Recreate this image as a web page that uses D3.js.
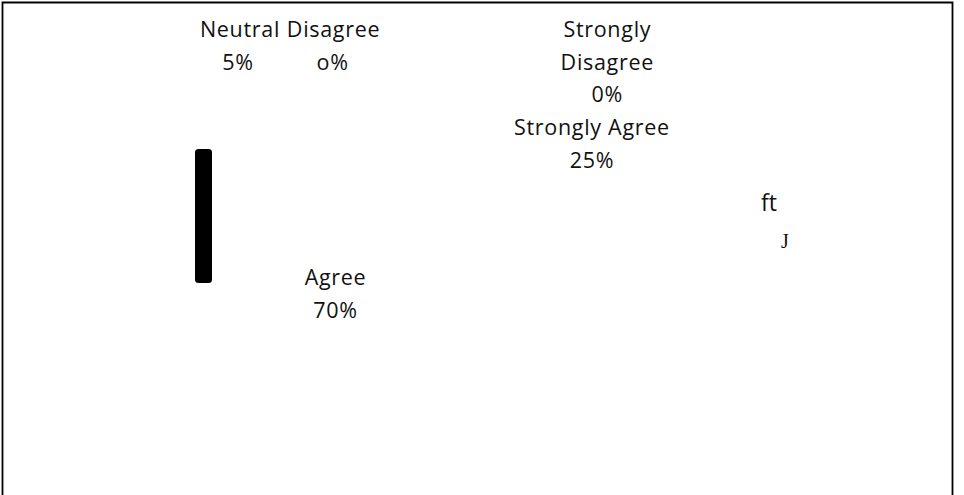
<!DOCTYPE html>
<html>
<head>
<meta charset="utf-8">
<script src="https://cdn.jsdelivr.net/npm/d3@7"></script>
<style>
  html, body { margin: 0; padding: 0; background: #fff; }
  svg text { font-family: "Open Sans", "Noto Sans", sans-serif; fill: #111; }
</style>
</head>
<body>
<div id="chart"></div>
<script>
// survey answers (pie labels only, slices are not drawn in the source picture)
var categories = ["Strongly Agree", "Agree", "Neutral", "Disagree", "Strongly Disagree"];
var values = [25, 70, 5, 0, 0];
// how the percent is printed in the picture
var pctText = ["25%", "70%", "5%", "o%", "0%"];

// where each label sits, as a fraction of the chart area
var labelPos = {
  "Strongly Agree":    { x: 0.614, y: 0.255, lines: ["Strongly Agree"] },
  "Agree":             { x: 0.348, y: 0.558, lines: ["Agree"] },
  "Neutral":           { x: 0.249, y: 0.058, lines: ["Neutral"], dx: -2 },
  "Disagree":          { x: 0.346, y: 0.058, lines: ["Disagree"], dx: -1 },
  "Strongly Disagree": { x: 0.630, y: 0.058, lines: ["Strongly", "Disagree"] }
};

var width = 964, height = 495;
var lineH = 33;
var fontSize = "21.5px";

var svg = d3.select("#chart").append("svg")
    .attr("width", width)
    .attr("height", height);

// frame (no bottom edge)
svg.append("path")
   .attr("d", "M2.5,495V2.5H952.5V495")
   .attr("fill", "none")
   .attr("stroke", "#000")
   .attr("stroke-width", 1.8);

var x = d3.scaleLinear().domain([0, 1]).range([0, width]);
var y = d3.scaleLinear().domain([0, 1]).range([0, height]);

var labels = svg.selectAll("g.lbl")
    .data(categories.map(function(c, i) { return { name: c, value: values[i], pct: pctText[i] }; }))
    .enter().append("g")
    .attr("class", "lbl")
    .attr("transform", function(d) {
        var p = labelPos[d.name];
        return "translate(" + x(p.x) + "," + y(p.y) + ")";
    });

labels.each(function(d) {
    var p = labelPos[d.name];
    var g = d3.select(this);
    p.lines.forEach(function(l, k) {
        g.append("text")
         .attr("text-anchor", "middle")
         .attr("dominant-baseline", "central")
         .attr("y", k * lineH)
         .style("font-size", fontSize)
         .style("letter-spacing", "0.7px")
         .text(l);
    });
    g.append("text")
     .attr("text-anchor", "middle")
     .attr("dominant-baseline", "central")
     .attr("x", p.dx || 0)
     .attr("y", p.lines.length * lineH - (p.lines.length > 1 ? 1 : 0))
     .style("font-size", fontSize)
     .style("letter-spacing", "0.7px")
     .text(d.pct);
});

// stray marks left over in the picture
svg.append("rect")
   .attr("x", 195).attr("y", 149)
   .attr("width", 17).attr("height", 134)
   .attr("rx", 3.5)
   .attr("fill", "#000");

svg.append("text")
   .attr("x", 769).attr("y", 202)
   .attr("text-anchor", "middle")
   .attr("dominant-baseline", "central")
   .style("font-size", "23px")
   .text("ft");

svg.append("text")
   .attr("x", 785).attr("y", 241)
   .attr("text-anchor", "middle")
   .attr("dominant-baseline", "central")
   .style("font-family", "'Liberation Serif', serif")
   .style("font-size", "20px")
   .text("J");
</script>
</body>
</html>
